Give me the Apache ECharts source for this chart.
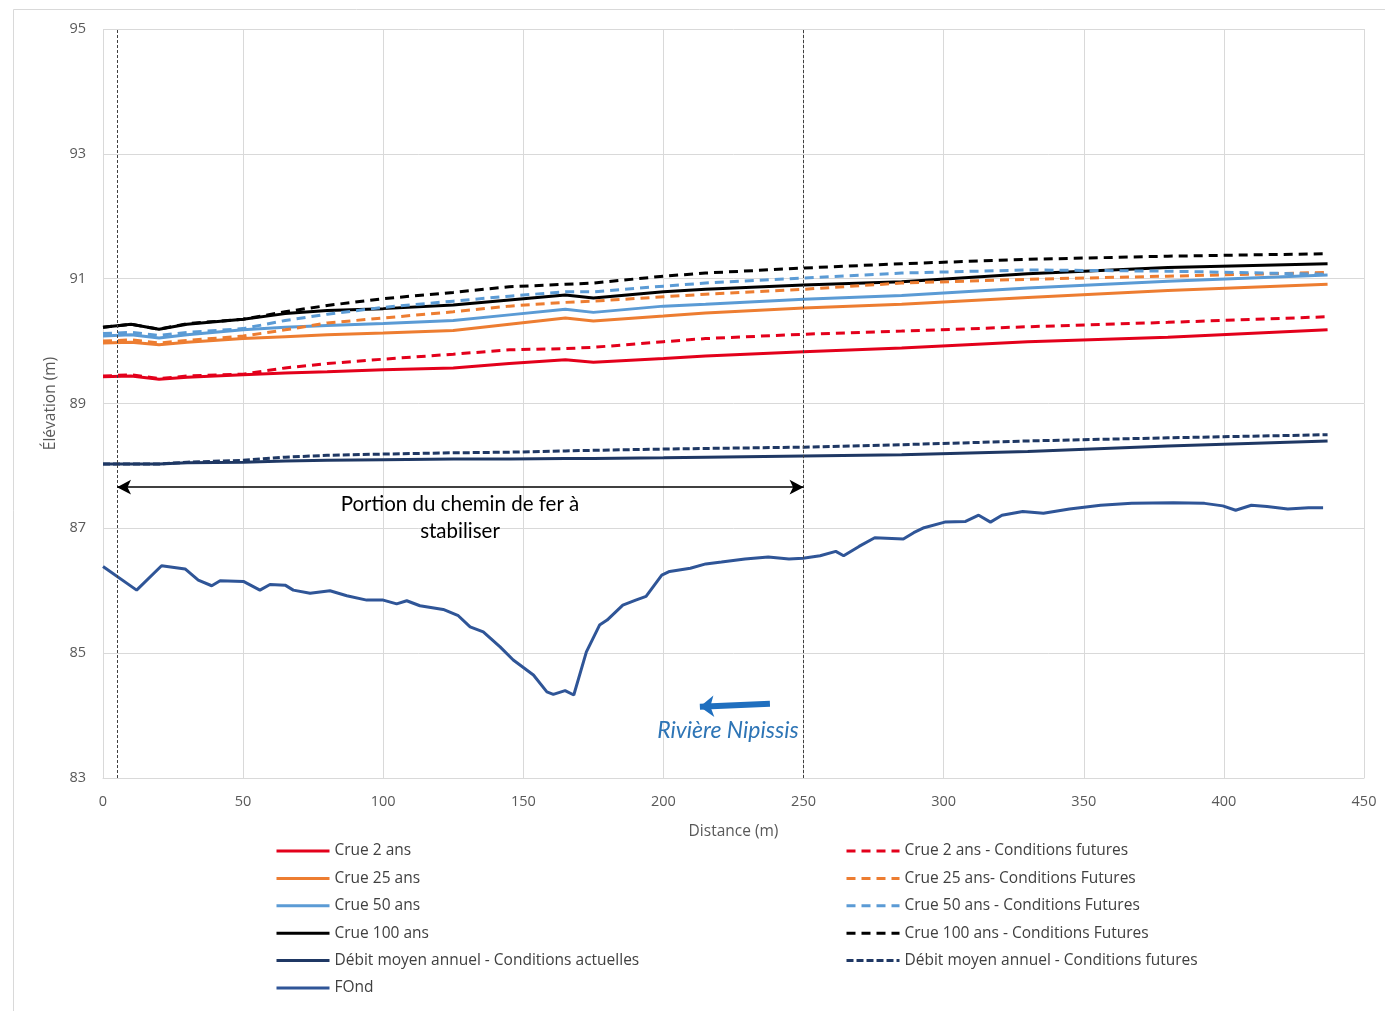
<!DOCTYPE html>
<html>
<head>
<meta charset="utf-8">
<title>Profil en long - Rivière Nipissis</title>
<script src="https://cdn.jsdelivr.net/npm/echarts@6/dist/echarts.min.js"></script>
<style>
  html, body { margin: 0; padding: 0; background: #ffffff; }
  #chart { width: 1385px; height: 1011px; }
</style>
</head>
<body>
<div id="chart"></div>
<script>
// Stations (m) where the water surface profiles are sampled
const stations = [0, 10, 20, 30, 50, 65, 80, 100, 125, 145, 165, 175, 200, 215, 250, 285, 330, 380, 437];

// Water surface elevations (m) at each station
const crue2      = [89.43, 89.44, 89.39, 89.42, 89.46, 89.49, 89.51, 89.54, 89.57, 89.64, 89.70, 89.66, 89.72, 89.76, 89.83, 89.89, 89.99, 90.06, 90.18];
const crue2Fut   = [89.44, 89.46, 89.40, 89.44, 89.47, 89.57, 89.64, 89.71, 89.79, 89.86, 89.88, 89.90, 89.99, 90.04, 90.11, 90.16, 90.23, 90.30, 90.39];
const crue25     = [89.97, 89.98, 89.94, 89.98, 90.04, 90.07, 90.10, 90.13, 90.17, 90.27, 90.37, 90.32, 90.40, 90.45, 90.53, 90.59, 90.70, 90.81, 90.91];
const crue25Fut  = [90.00, 90.02, 89.97, 90.01, 90.08, 90.18, 90.29, 90.37, 90.47, 90.56, 90.62, 90.64, 90.71, 90.75, 90.83, 90.93, 90.99, 91.04, 91.10];
const crue50     = [90.08, 90.10, 90.05, 90.10, 90.18, 90.22, 90.25, 90.28, 90.33, 90.42, 90.51, 90.46, 90.56, 90.59, 90.67, 90.73, 90.85, 90.96, 91.06];
const crue50Fut  = [90.12, 90.14, 90.09, 90.14, 90.20, 90.33, 90.43, 90.54, 90.64, 90.72, 90.79, 90.79, 90.88, 90.93, 91.01, 91.09, 91.14, 91.12, 91.07];
const crue100    = [90.22, 90.27, 90.19, 90.27, 90.35, 90.44, 90.49, 90.52, 90.58, 90.66, 90.74, 90.69, 90.79, 90.83, 90.90, 90.95, 91.08, 91.18, 91.24];
const crue100Fut = [90.22, 90.27, 90.19, 90.28, 90.35, 90.47, 90.57, 90.68, 90.78, 90.87, 90.91, 90.93, 91.04, 91.09, 91.17, 91.24, 91.31, 91.36, 91.40];
const debitAct   = [88.03, 88.03, 88.03, 88.05, 88.06, 88.08, 88.09, 88.10, 88.11, 88.11, 88.12, 88.12, 88.13, 88.14, 88.16, 88.18, 88.23, 88.32, 88.40];
const debitFut   = [88.03, 88.03, 88.03, 88.06, 88.09, 88.14, 88.17, 88.19, 88.21, 88.22, 88.24, 88.25, 88.27, 88.28, 88.30, 88.34, 88.40, 88.45, 88.50];

// Riverbed profile (FOnd)
const fondDist = [0, 12, 20.9, 29.3, 34, 38.8, 41.8, 50.1, 56, 59.6, 65, 67.9, 73.9, 81, 87, 94.1, 100, 104.8, 108.4, 113.1,
  121.4, 126.8, 131, 135.7, 141.7, 146.4, 153.6, 158.4, 160.7, 164.9, 168, 172.5, 177.2, 179.9, 185.5, 190.1, 193.8,
  199.4, 202.2, 209.6, 215.1, 220.7, 229.1, 237.4, 244.8, 249.8, 255.9, 261.5, 264.3, 269.8, 275.4, 285.6, 289.3, 293,
  300.4, 307.8, 312.5, 316.7, 320.8, 328.2, 335.6, 344.9, 356, 367.1, 382, 393.1, 399.6, 404.2, 409.8, 415.4, 422.8, 430.2, 435.4];
const fondElev = [86.39, 86.01, 86.40, 86.35, 86.17, 86.08, 86.16, 86.15, 86.01, 86.10, 86.09, 86.01, 85.96, 86.00, 85.92, 85.85, 85.85, 85.79, 85.84, 85.76,
  85.70, 85.60, 85.42, 85.34, 85.10, 84.89, 84.65, 84.38, 84.34, 84.40, 84.33, 85.02, 85.45, 85.53, 85.77, 85.85, 85.91,
  86.25, 86.31, 86.36, 86.43, 86.46, 86.51, 86.54, 86.51, 86.52, 86.56, 86.63, 86.56, 86.71, 86.85, 86.83, 86.93, 87.01,
  87.10, 87.11, 87.21, 87.10, 87.21, 87.27, 87.24, 87.31, 87.37, 87.40, 87.41, 87.40, 87.36, 87.29, 87.37, 87.35, 87.31, 87.33, 87.33];

// Axis ticks
const yTicks = [83, 85, 87, 89, 91, 93, 95];

// Annotations: railway segment limits, its arrow elevation, the river flow arrow
const segmentLimits = [5, 250];
const segmentArrowElev = 87.66;
const segmentLabelPos = [127.4, 87.17];
const flowArrow = [[238, 84.19], [213, 84.14]];
const flowLabelPos = [223, 83.76];

const pairs = (xs, ys) => xs.map((x, i) => [x, ys[i]]);

const lineSeries = (name, data, color, dash, width) => ({
  name: name,
  type: 'line',
  data: data,
  symbol: 'none',
  smooth: false,
  lineStyle: { color: color, width: width || 3, type: dash || 'solid' },
  itemStyle: { color: color },
  emphasis: { disabled: true },
  z: 3
});

const RED = '#e3001b', ORANGE = '#ed7d31', BLUE = '#5b9bd5', BLACK = '#000000', NAVY = '#1f3864', FOND = '#2f5597';
const CRUE_DASH = [9, 6];

const series = [
  lineSeries('Crue 2 ans', pairs(stations, crue2), RED),
  lineSeries('Crue 25 ans', pairs(stations, crue25), ORANGE),
  lineSeries('Crue 50 ans', pairs(stations, crue50), BLUE),
  lineSeries('Crue 100 ans', pairs(stations, crue100), BLACK),
  lineSeries('Débit moyen annuel - Conditions actuelles', pairs(stations, debitAct), NAVY),
  lineSeries('FOnd', pairs(fondDist, fondElev), FOND),
  lineSeries('Crue 2 ans - Conditions futures', pairs(stations, crue2Fut), RED, CRUE_DASH),
  lineSeries('Crue 25 ans- Conditions Futures', pairs(stations, crue25Fut), ORANGE, CRUE_DASH),
  lineSeries('Crue 50 ans - Conditions Futures', pairs(stations, crue50Fut), BLUE, CRUE_DASH),
  lineSeries('Crue 100 ans - Conditions Futures', pairs(stations, crue100Fut), BLACK, CRUE_DASH),
  lineSeries('Débit moyen annuel - Conditions futures', pairs(stations, debitFut), NAVY, [7, 3])
];

// Annotation layer drawn on a hidden helper series
series.push({
  name: 'annotations',
  type: 'line',
  data: [],
  symbol: 'none',
  silent: true,
  z: 5,
  markLine: {
    silent: true,
    animation: false,
    label: { show: false },
    emphasis: { disabled: true },
    data: [
      [{ coord: [segmentLimits[0], 83], symbol: 'none', lineStyle: { color: '#404040', width: 1, type: [3, 2] } },
       { coord: [segmentLimits[0], 95], symbol: 'none' }],
      [{ coord: [segmentLimits[1], 83], symbol: 'none', lineStyle: { color: '#404040', width: 1, type: [3, 2] } },
       { coord: [segmentLimits[1], 95], symbol: 'none' }],
      [{ coord: [segmentLimits[0], segmentArrowElev], symbol: 'arrow', symbolSize: [11, 14], lineStyle: { color: '#000000', width: 1.5, type: 'solid' } },
       { coord: [segmentLimits[1], segmentArrowElev], symbol: 'arrow', symbolSize: [11, 14] }],
      [{ coord: flowArrow[0], symbol: 'none', lineStyle: { color: '#1f6fbf', width: 6, type: 'solid' } },
       { coord: flowArrow[1], symbol: 'arrow', symbolSize: [16, 14] }]
    ]
  },
  markPoint: {
    silent: true,
    animation: false,
    symbol: 'rect',
    symbolSize: 0,
    data: [
      {
        coord: segmentLabelPos,
        label: {
          show: true, position: 'inside',
          formatter: 'Portion du chemin de fer à\nstabiliser',
          fontFamily: 'Lato', fontSize: 20.5, lineHeight: 27, color: '#000000', align: 'center'
        }
      },
      {
        coord: flowLabelPos,
        label: {
          show: true, position: 'inside',
          formatter: 'Rivière Nipissis',
          fontFamily: 'Lato', fontStyle: 'italic', fontSize: 23, color: '#2e75b6'
        }
      }
    ]
  }
});

const legendText = { color: '#404040', fontFamily: 'Open Sans', fontSize: 15.5 };
const legendCommon = {
  orient: 'vertical', top: 843, padding: 0,
  itemWidth: 53, itemHeight: 14, itemGap: 11.4,
  textStyle: legendText, selectedMode: false,
  itemStyle: { opacity: 0 },
  lineStyle: { width: 3 }
};

const option = {
  animation: false,
  backgroundColor: '#ffffff',
  graphic: [{
    type: 'rect', left: 11, top: 7, silent: true,
    shape: { width: 1400, height: 1020 },
    style: { fill: 'none', stroke: '#d9d9d9', lineWidth: 1 }
  }],
  grid: { left: 103, right: 21, top: 29, bottom: 233, containLabel: false },
  xAxis: {
    type: 'value', min: 0, max: 450, interval: 50,
    name: 'Distance (m)', nameLocation: 'middle', nameGap: 46,
    nameTextStyle: { color: '#595959', fontFamily: 'Open Sans', fontSize: 15.5 },
    axisLine: { show: true, lineStyle: { color: '#d9d9d9' } },
    axisTick: { show: false },
    axisLabel: { color: '#595959', fontFamily: 'Open Sans', fontSize: 14.5, margin: 16 },
    splitLine: { show: true, lineStyle: { color: '#d9d9d9', width: 1 } }
  },
  yAxis: {
    type: 'value', min: 83, max: 95,
    name: 'Élévation (m)', nameLocation: 'middle', nameGap: 44,
    nameTextStyle: { color: '#595959', fontFamily: 'Open Sans', fontSize: 15.5 },
    axisLine: { show: false },
    axisTick: { show: false, customValues: yTicks },
    axisLabel: { color: '#595959', fontFamily: 'Open Sans', fontSize: 14.5, margin: 17, customValues: yTicks },
    splitLine: { show: true, lineStyle: { color: '#d9d9d9', width: 1 } }
  },
  legend: [
    Object.assign({}, legendCommon, {
      left: 275,
      data: ['Crue 2 ans', 'Crue 25 ans', 'Crue 50 ans', 'Crue 100 ans',
             'Débit moyen annuel - Conditions actuelles', 'FOnd']
    }),
    Object.assign({}, legendCommon, {
      left: 845,
      data: ['Crue 2 ans - Conditions futures', 'Crue 25 ans- Conditions Futures',
             'Crue 50 ans - Conditions Futures', 'Crue 100 ans - Conditions Futures',
             'Débit moyen annuel - Conditions futures']
    })
  ],
  series: series
};

const chart = echarts.init(document.getElementById('chart'), null, { renderer: 'canvas' });
chart.setOption(option);
</script>
</body>
</html>
